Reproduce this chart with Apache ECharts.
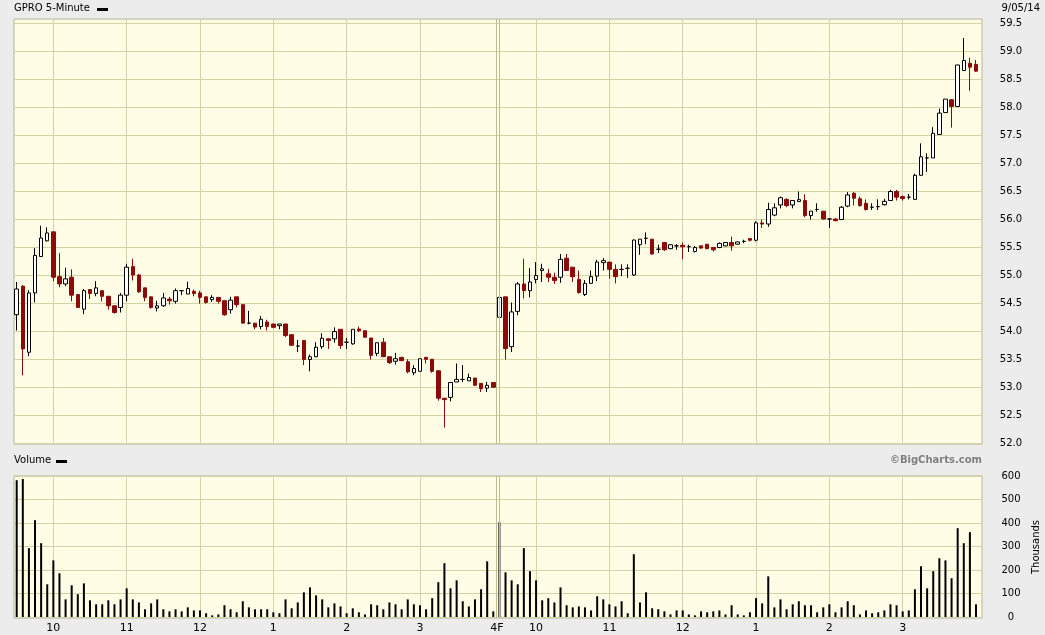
<!DOCTYPE html>
<html><head><meta charset="utf-8">
<script src="https://cdn.jsdelivr.net/npm/echarts@6/dist/echarts.min.js"></script>
<style>html,body{margin:0;padding:0;background:#ececec}#c{width:1045px;height:635px}</style>
</head><body><div id="c"></div>
<script>
// GPRO 5-minute bars, Sep 4 and Sep 5 2014: [open, close, low, high]
const sep4Bars = [
[54.29,54.75,54.01,54.875],[54.80,53.68,53.21,54.82],[53.62,54.68,53.55,54.73],[54.68,55.35,54.51,55.48],
[55.33,55.66,55.32,55.88],[55.61,55.75,55.60,55.85],[55.77,54.96,54.89,55.77],[54.97,54.84,54.78,55.39],
[54.84,54.93,54.80,55.13],[54.96,54.64,54.53,55.10],[54.65,54.42,54.41,54.65],[54.39,54.72,54.30,54.75],
[54.74,54.67,54.57,54.74],[54.67,54.77,54.62,54.89],[54.72,54.62,54.53,54.72],[54.62,54.45,54.38,54.62],
[54.45,54.33,54.31,54.45],[54.42,54.64,54.33,54.68],[54.64,55.14,54.53,55.20],[55.15,55.00,54.90,55.29],
[55.00,54.70,54.68,55.02],[54.77,54.60,54.53,54.77],[54.61,54.42,54.40,54.61],[54.41,54.45,54.35,54.54],
[54.45,54.59,54.43,54.68],[54.57,54.54,54.47,54.61],[54.53,54.72,54.49,54.76],[54.72,54.72,54.64,54.72],
[54.66,54.76,54.66,54.88],[54.71,54.67,54.62,54.74],[54.68,54.60,54.49,54.72],[54.61,54.51,54.49,54.61],
[54.56,54.60,54.52,54.64],[54.60,54.53,54.49,54.60],[54.54,54.29,54.27,54.54],[54.38,54.55,54.31,54.61],
[54.61,54.47,54.42,54.61],[54.47,54.14,54.14,54.47],[54.14,54.14,54.12,54.36],[54.14,54.07,54.03,54.14],
[54.08,54.21,54.03,54.27],[54.16,54.08,54.01,54.20],[54.125,54.065,54.05,54.125],[54.095,54.125,54.03,54.125],
[54.125,53.92,53.89,54.125],[53.935,53.745,53.73,53.935],[53.73,53.73,53.625,53.84],[53.83,53.49,53.39,53.83],
[53.49,53.54,53.28,53.58],[53.54,53.71,53.53,53.80],[53.72,53.87,53.68,53.96],[53.86,53.83,53.68,53.86],
[53.86,53.99,53.79,54.065],[54.03,53.74,53.68,54.03],[53.80,53.80,53.68,53.875],[53.77,54.03,53.755,54.03],
[54.035,54.005,53.98,54.08],[54.005,53.89,53.875,54.005],[53.875,53.565,53.49,53.875],[53.60,53.79,53.55,53.79],
[53.80,53.54,53.54,53.875],[53.54,53.435,53.41,53.54],[53.46,53.505,53.40,53.61],[53.53,53.47,53.47,53.53],
[53.45,53.27,53.245,53.495],[53.255,53.33,53.21,53.39],[53.28,53.505,53.28,53.505],[53.53,53.495,53.42,53.53],
[53.495,53.28,53.255,53.495],[53.29,52.80,52.755,53.29],[52.80,52.775,52.275,52.80],[52.815,53.08,52.745,53.08],
[53.09,53.135,53.09,53.42],[53.135,53.135,53.09,53.39],[53.11,53.17,53.11,53.24],[53.16,53.03,53.02,53.16],
[53.065,52.97,52.91,53.065],[52.98,53.03,52.91,53.09],[53.08,52.995,52.995,53.08]
];
const sep5Bars = [
[54.244,54.60,54.10,54.97],[54.61,53.685,53.49,54.61],[53.72,54.34,53.625,54.51],[54.35,54.84,54.28,54.875],
[54.84,54.72,54.58,55.29],[54.72,54.875,54.60,55.125],[54.92,54.99,54.85,55.23],[55.08,55.11,54.875,55.20],
[55.02,54.96,54.875,55.11],[54.96,54.90,54.84,55.04],[54.96,55.28,54.86,55.375],[55.30,55.08,55.08,55.375],
[55.14,54.97,54.875,55.14],[54.92,54.685,54.67,55.08],[54.65,54.85,54.625,54.91],[54.85,54.97,54.85,55.08],
[54.98,55.23,54.89,55.27],[55.22,55.256,55.08,55.30],[55.23,55.10,54.935,55.23],[55.10,54.97,54.85,55.19],
[55.10,55.10,54.98,55.19],[55.12,55.12,54.95,55.19],[55.00,55.625,54.98,55.63],[55.54,55.64,55.36,55.64],
[55.655,55.655,55.55,55.76],[55.64,55.375,55.36,55.64],[55.46,55.46,55.39,55.54],[55.58,55.45,55.43,55.58],
[55.47,55.54,55.46,55.55],[55.52,55.52,55.45,55.55],[55.53,55.505,55.28,55.58],[55.505,55.505,55.41,55.54],
[55.42,55.49,55.40,55.52],[55.52,55.48,55.47,55.52],[55.55,55.47,55.46,55.55],[55.49,55.45,55.42,55.49],
[55.49,55.565,55.48,55.58],[55.52,55.58,55.51,55.59],[55.58,55.52,55.435,55.685],[55.55,55.59,55.54,55.60],
[55.60,55.60,55.57,55.63],[55.65,55.62,55.60,55.66],[55.62,55.93,55.60,55.96],[55.93,55.91,55.84,55.99],
[55.91,56.17,55.86,56.29],[56.07,56.20,56.05,56.28],[56.25,56.38,56.19,56.40],[56.35,56.24,56.21,56.37],
[56.25,56.33,56.19,56.33],[56.31,56.345,56.31,56.49],[56.33,56.06,56.03,56.44],[56.06,56.14,55.99,56.14],
[56.17,56.17,56.13,56.28],[56.14,56.00,55.99,56.14],[56.00,56.00,55.84,56.01],[56.00,55.97,55.96,56.01],
[55.99,56.21,55.99,56.23],[56.23,56.43,56.21,56.48],[56.46,56.37,56.24,56.48],[56.36,56.24,56.22,56.40],
[56.28,56.17,56.15,56.35],[56.21,56.21,56.16,56.28],[56.22,56.22,56.16,56.35],[56.255,56.315,56.24,56.36],
[56.33,56.49,56.33,56.52],[56.49,56.39,56.33,56.52],[56.40,56.365,56.33,56.42],[56.39,56.39,56.35,56.45],
[56.35,56.78,56.35,56.81],[56.78,57.11,56.78,57.35],[57.09,57.09,56.84,57.17],[57.09,57.53,57.09,57.64],
[57.51,57.89,57.51,57.97],[57.90,58.14,57.90,58.14],[58.13,58.01,57.63,58.14],[58.01,58.75,58.01,58.75],
[58.65,58.83,58.65,59.23],[58.78,58.71,58.29,58.88],[58.76,58.64,58.63,58.84]
];
// Volume, thousands of shares
const sep4Volume = [582,587,293,412,314,139,241,186,75,135,97,143,71,54,54,71,54,75,122,75,62,33,58,75,33,24,33,24,41,28,28,16,7,11,50,33,20,67,41,33,
33,33,20,16,75,37,62,105,126,92,75,41,58,45,16,37,20,11,54,50,33,62,54,33,75,54,50,33,80,148,229,122,156,67,45,75,118,237,24];
const sep5Volume = [403,190,156,139,293,195,156,71,80,62,126,50,41,45,41,28,88,75,54,45,67,16,267,62,105,37,33,24,11,28,28,11,7,24,20,24,28,11,50,11,
7,20,80,58,173,41,75,33,54,67,50,50,20,41,54,20,41,67,50,11,28,16,20,28,54,50,24,28,118,216,122,195,250,241,165,378,314,361,54];
// time axis labels (bar index where each label sits)
const hourLabels = ['10','11','12','1','2','3','4F','10','11','12','1','2','3'];
const hourLabelBar = [6,18,30,42,54,66,78.6,85,97,109,121,133,145];
const priceTicks = [52,52.5,53,53.5,54,54.5,55,55.5,56,56.5,57,57.5,58,58.5,59,59.5];
const volumeTicks = [0,100,200,300,400,500,600];

const UP_LINE = '#000000', DOWN = '#8c0a0a';
const allBars = sep4Bars.concat(sep5Bars);
const candleData = allBars.map((b, k) => {
  const item = {value: [k, b[0], b[1], b[2], b[3]]};
  if (b[0] === b[1]) item.itemStyle = {borderColor: UP_LINE, borderColor0: UP_LINE, borderColorDoji: UP_LINE};
  return item;
});
const volData = sep4Volume.concat(sep5Volume).map((v, k) => [k, v]);
const gridLineBars = hourLabelBar.filter((v, i) => hourLabels[i] !== '4F');
const labelMap = {};
hourLabelBar.forEach((v, i) => { labelMap[v] = hourLabels[i]; });

const FONT = 'DejaVu Sans';
const GRIDC = '#d3d3a6';
const xCommon = {type: 'value', min: -0.44, max: 157.98, axisLine: {show: false}, axisTick: {show: false, customValues: gridLineBars},
  splitLine: {show: true, lineStyle: {color: GRIDC, width: 1}}};
const sepLine = {silent: true, symbol: 'none', label: {show: false}, lineStyle: {color: '#bdbd95', width: 1, type: 'solid'},
  data: [{xAxis: 78.45}, {xAxis: 78.95}]};

const chart = echarts.init(document.getElementById('c'), null, {renderer: 'canvas'});
chart.setOption({
  animation: false,
  backgroundColor: '#ececec',
  grid: [
    {left: 14, top: 19, width: 968, height: 425, outerBoundsMode: 'none', containLabel: false, show: true, backgroundColor: '#fffde6', borderColor: '#b5b59a', borderWidth: 1},
    {left: 14, top: 476, width: 968, height: 142, outerBoundsMode: 'none', containLabel: false, show: true, backgroundColor: '#fffde6', borderColor: '#b5b59a', borderWidth: 1}
  ],
  xAxis: [
    Object.assign({gridIndex: 0, axisLabel: {show: false}}, xCommon),
    Object.assign({gridIndex: 1, axisLabel: {show: true, customValues: hourLabelBar, formatter: v => labelMap[v] || '',
      fontFamily: FONT, fontSize: 11, color: '#000', margin: 5}}, xCommon)
  ],
  yAxis: [
    {gridIndex: 0, type: 'value', position: 'right', min: 51.982, max: 59.571, axisLine: {show: false},
      axisTick: {show: false, customValues: priceTicks},
      axisLabel: {customValues: priceTicks, formatter: v => v.toFixed(1), fontFamily: FONT, fontSize: 10, color: '#000', align: 'center', margin: 29},
      splitLine: {show: true, lineStyle: {color: GRIDC, width: 1}}},
    {gridIndex: 1, type: 'value', position: 'right', min: -4.26, max: 600, axisLine: {show: false},
      axisTick: {show: false, customValues: volumeTicks},
      axisLabel: {customValues: volumeTicks, fontFamily: FONT, fontSize: 10, color: '#000', align: 'center', margin: 29},
      splitLine: {show: true, lineStyle: {color: GRIDC, width: 1}},
      name: 'Thousands', nameLocation: 'middle', nameRotate: 90, nameGap: 48,
      nameTextStyle: {fontFamily: FONT, fontSize: 10, color: '#000'}}
  ],
  series: [
    {type: 'candlestick', xAxisIndex: 0, yAxisIndex: 0, data: candleData, encode: {x: 0, y: [1, 2, 3, 4]}, barWidth: 4,
      itemStyle: {color: '#ffffff', color0: DOWN, borderColor: UP_LINE, borderColor0: DOWN, borderColorDoji: UP_LINE, borderWidth: 1},
      markLine: sepLine},
    {type: 'bar', xAxisIndex: 1, yAxisIndex: 1, data: volData, barWidth: 2, itemStyle: {color: '#000'},
      markLine: sepLine}
  ],
  graphic: [
    {type: 'text', left: 14, top: 3, style: {text: 'GPRO 5-Minute', font: '10px ' + FONT, fill: '#000'}},
    {type: 'rect', shape: {x: 97, y: 8, width: 11, height: 3}, style: {fill: '#000'}},
    {type: 'text', right: 5, top: 3, style: {text: '9/05/14', font: '10px ' + FONT, fill: '#000'}},
    {type: 'text', left: 14, top: 455, style: {text: 'Volume', font: '10px ' + FONT, fill: '#000'}},
    {type: 'rect', shape: {x: 56, y: 460, width: 11, height: 3}, style: {fill: '#000'}},
    {type: 'text', right: 63, top: 455, style: {text: '©BigCharts.com', font: 'bold 10px ' + FONT, fill: '#808080'}}
  ]
});
</script>
</body></html>
